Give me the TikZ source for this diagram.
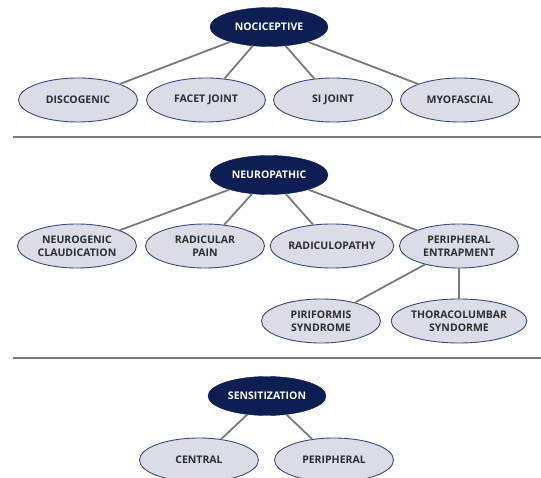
\documentclass[tikz,border=0pt]{standalone}
\usepackage{fontspec}
\setmainfont{Open Sans}
\usetikzlibrary{shapes.geometric}
\definecolor{navy}{RGB}{12,30,82}
\definecolor{leaf}{RGB}{220,220,230}
\definecolor{leafborder}{RGB}{60,75,120}
\definecolor{txt}{RGB}{45,45,50}
\definecolor{conn}{RGB}{122,122,122}
\tikzset{
  root/.style={ellipse, fill=navy, draw=navy, minimum width=118pt, minimum height=39pt, inner sep=0pt,
    font=\fontsize{10.5}{12.5}\selectfont\bfseries, text=white, align=center},
  leafnode/.style={ellipse, fill=leaf, draw=leafborder, line width=0.9pt, minimum width=119pt, minimum height=44pt, inner sep=0pt,
    font=\fontsize{10.5}{12.5}\selectfont\bfseries, text=txt, align=center},
  conn/.style={draw=conn, line width=1.8pt},
  sep/.style={draw=conn, line width=1.8pt}
}
\begin{document}
\begin{tikzpicture}[x=1pt,y=-1pt]
\useasboundingbox (0,0) rectangle (541,478);
% Nociceptive
\node[root] (noc) at (269,27) {NOCICEPTIVE};
\node[leafnode] (disc) at (78,100) {DISCOGENIC};
\node[leafnode] (facet) at (206,100) {FACET JOINT};
\node[leafnode] (si) at (333,100) {SI JOINT};
\node[leafnode] (myo) at (460,100) {MYOFASCIAL};
\draw[conn] (noc) -- (disc);
\draw[conn] (noc) -- (facet);
\draw[conn] (noc) -- (si);
\draw[conn] (noc) -- (myo);
\coordinate (s1a) at (13,137);
\coordinate (s1b) at (541,137);
\draw[sep] (s1a) -- (s1b);
% Neuropathic
\node[root] (neu) at (269,175) {NEUROPATHIC};
\node[leafnode] (claud) at (77,246) {NEUROGENIC\\CLAUDICATION};
\node[leafnode] (rad) at (205,246) {RADICULAR\\PAIN};
\node[leafnode] (radp) at (332,246) {RADICULOPATHY};
\node[leafnode] (peri) at (459,246) {PERIPHERAL\\ENTRAPMENT};
\node[leafnode] (piri) at (321,321) {PIRIFORMIS\\SYNDROME};
\node[leafnode, minimum width=124pt] (thor) at (459,321) {THORACOLUMBAR\\SYNDORME};
\draw[conn] (neu) -- (claud);
\draw[conn] (neu) -- (rad);
\draw[conn] (neu) -- (radp);
\draw[conn] (neu) -- (peri);
\draw[conn] (peri) -- (piri);
\draw[conn] (peri) -- (thor);
\coordinate (s2a) at (13,358);
\coordinate (s2b) at (541,358);
\draw[sep] (s2a) -- (s2b);
% Sensitization
\node[root] (sen) at (267,396) {SENSITIZATION};
\node[leafnode] (cen) at (199,460) {CENTRAL};
\node[leafnode] (perf) at (334,460) {PERIPHERAL};
\draw[conn] (sen) -- (cen);
\draw[conn] (sen) -- (perf);
\end{tikzpicture}
\end{document}
